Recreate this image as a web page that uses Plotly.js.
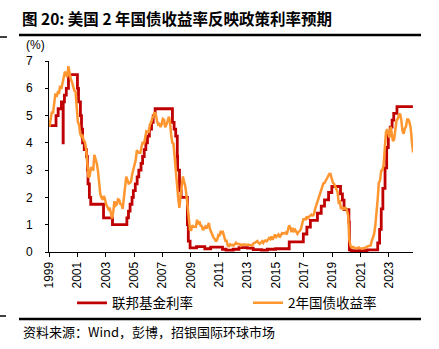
<!DOCTYPE html>
<html>
<head>
<meta charset="utf-8">
<script src="https://cdn.plot.ly/plotly-3.0.1.min.js"></script>
<style>html,body{margin:0;padding:0;background:#fff}#chart{width:439px;height:349px}</style>
</head>
<body>
<div id="chart"></div>
<script>
// ---- Data ----
// Fed funds (effective) rate, change dates and levels (%)
var fedDates = ['1999-01-01','1999-07-01','1999-08-25','1999-11-17','1999-12-31','2000-01-03','2000-02-03','2000-03-22','2000-05-17',
  '2001-01-03','2001-01-31','2001-03-21','2001-04-18','2001-05-16','2001-06-28','2001-08-22','2001-09-17','2001-10-03','2001-11-07','2001-12-12',
  '2002-11-07','2003-06-26','2004-07-01','2004-08-11','2004-09-22','2004-11-11','2004-12-15','2005-02-03','2005-03-23','2005-05-04',
  '2005-07-01','2005-08-10','2005-09-21','2005-11-02','2005-12-14','2006-02-01','2006-03-29','2006-05-11','2006-06-30',
  '2007-09-19','2007-11-01','2007-12-12','2008-01-22','2008-01-31','2008-03-19','2008-05-01','2008-10-09','2008-11-01','2008-12-17',
  '2009-06-01','2010-01-01','2010-06-01','2011-04-01','2011-07-01','2012-01-01','2012-06-01','2013-01-01','2013-06-01','2014-01-01','2014-06-01','2015-01-01',
  '2015-12-17','2016-12-15','2017-03-16','2017-06-15','2017-12-14','2018-03-22','2018-06-14','2018-09-27','2018-12-20',
  '2019-08-01','2019-09-19','2019-10-31','2020-03-04','2020-03-16','2020-05-01','2021-06-17',
  '2022-03-17','2022-05-05','2022-06-16','2022-07-28','2022-09-22','2022-11-03','2022-12-15','2023-02-02','2023-03-23','2023-05-04','2023-07-27','2024-09-10'];
var fedRate = [4.63,5.0,5.25,5.5,4.0,5.5,5.75,6.0,6.5,
  6.0,5.5,5.0,4.5,4.0,3.75,3.5,3.0,2.5,2.0,1.75,
  1.25,1.0,1.25,1.5,1.75,2.0,2.25,2.5,2.75,3.0,
  3.25,3.5,3.75,4.0,4.25,4.5,4.75,5.0,5.25,
  4.75,4.5,4.25,3.5,3.0,2.25,2.0,1.0,0.4,0.15,
  0.2,0.12,0.18,0.1,0.07,0.1,0.16,0.14,0.09,0.07,0.1,0.12,
  0.37,0.66,0.91,1.16,1.42,1.68,1.91,2.18,2.4,
  2.13,1.9,1.55,1.1,0.08,0.05,0.08,
  0.33,0.83,1.58,2.33,3.08,3.83,4.33,4.58,4.83,5.08,5.33,5.33];

// 2-year Treasury yield, monthly (%), starting Jan 1999
var ust2y_1999_2003 = [4.60,4.91,5.14,5.08,5.44,5.81,5.68,5.84,5.80,6.10,5.97,6.19,
  6.44,6.61,6.53,6.40,6.81,6.48,6.34,6.23,6.08,5.91,5.88,5.35,
  4.76,4.66,4.34,4.23,4.26,4.08,4.04,3.76,3.12,2.73,2.78,3.11,
  3.03,3.02,3.56,3.42,3.26,2.99,2.56,2.13,2.00,1.91,2.05,1.94,
  1.74,1.63,1.57,1.62,1.42,1.23,1.47,1.86,1.71,1.75,1.93,1.91];
var ust2y_2004_2008 = [1.76,1.74,1.58,2.07,2.53,2.76,2.64,2.51,2.53,2.58,2.85,3.01,
  3.22,3.38,3.73,3.65,3.64,3.64,3.87,4.04,3.95,4.27,4.42,4.40,
  4.40,4.67,4.73,4.89,4.97,5.12,5.06,4.82,4.67,4.69,4.58,4.68,
  4.88,4.85,4.57,4.67,4.77,4.96,4.82,4.31,4.01,3.97,3.34,3.12,
  2.48,1.97,1.62,2.05,2.45,2.77,2.57,2.42,2.08,1.61,1.21,0.82];
var ust2y_2009_2013 = [0.81,0.98,0.93,0.93,0.92,1.18,1.02,1.12,0.96,0.95,0.80,0.87,
  0.93,0.86,0.96,1.06,0.83,0.72,0.62,0.52,0.48,0.38,0.45,0.62,
  0.61,0.77,0.70,0.73,0.56,0.41,0.41,0.23,0.21,0.28,0.25,0.26,
  0.24,0.28,0.34,0.29,0.29,0.29,0.23,0.27,0.26,0.28,0.27,0.26,
  0.27,0.27,0.26,0.23,0.25,0.33,0.34,0.36,0.40,0.34,0.30,0.34];
var ust2y_2014_2018 = [0.39,0.33,0.40,0.42,0.39,0.45,0.51,0.47,0.57,0.45,0.53,0.64,
  0.55,0.62,0.64,0.54,0.61,0.69,0.67,0.70,0.71,0.64,0.88,0.98,
  0.90,0.73,0.88,0.77,0.82,0.73,0.67,0.74,0.77,0.84,0.98,1.20,
  1.21,1.20,1.30,1.24,1.30,1.34,1.37,1.34,1.38,1.58,1.71,1.84,
  2.03,2.18,2.28,2.38,2.51,2.53,2.61,2.64,2.77,2.86,2.86,2.68];
var ust2y_2019_2024 = [2.54,2.50,2.41,2.33,2.21,1.81,1.84,1.57,1.65,1.55,1.61,1.61,
  1.52,1.33,0.45,0.22,0.17,0.19,0.15,0.14,0.13,0.15,0.17,0.14,
  0.13,0.12,0.15,0.16,0.16,0.20,0.22,0.21,0.24,0.41,0.55,0.66,
  0.98,1.39,1.91,2.54,2.61,2.98,3.00,3.18,3.86,4.38,4.50,4.29,
  4.19,4.59,4.40,4.06,4.13,4.64,4.82,4.88,5.03,5.07,4.84,4.45,
  4.33,4.53,4.59,4.86,4.86,4.74,4.54,4.03,3.65];
var ust2y = [].concat(ust2y_1999_2003, ust2y_2004_2008, ust2y_2009_2013, ust2y_2014_2018, ust2y_2019_2024);
var startYear = 1999;
var ustDates = ust2y.map(function(v, i){
  var y = startYear + Math.floor(i/12), m = i % 12 + 1;
  return y + '-' + (m < 10 ? '0' + m : m) + '-15';
});

var xTickVals = ['1999-01-01','2001-01-01','2003-01-01','2005-01-01','2007-01-01','2009-01-01','2011-01-01','2013-01-01','2015-01-01','2017-01-01','2019-01-01','2021-01-01','2023-01-01'];
var xTickText = ['1999','2001','2003','2005','2007','2009','2011','2013','2015','2017','2019','2021','2023'];
var yTickVals = [0,1,2,3,4,5,6,7];

var nameFed = '联邦基金利率';
var nameUst = '2年国债收益率';
var titleText = '图 20: 美国 2 年国债收益率反映政策利率预期';
var sourceText = '资料来源：Wind，彭博，招银国际环球市场';

// ---- Layout helpers (pixel -> paper) ----
var L = 49, R = 413, T = 61, B = 252;
function px(x){ return (x - L) / (R - L); }
function py(y){ return (B - y) / (B - T); }

var cjk = '"Noto Sans CJK SC", "Liberation Sans", sans-serif';
var lat = '"Liberation Sans", Arial, sans-serif';

var traces = [
  {x: fedDates, y: fedRate, name: nameFed, type: 'scatter', mode: 'lines',
   line: {color: '#C00000', width: 2.8, shape: 'hv'}},
  {x: ustDates, y: ust2y, name: nameUst, type: 'scatter', mode: 'lines',
   line: {color: '#FF9630', width: 2.5}}
];

var layout = {
  width: 439, height: 349,
  margin: {l: L, r: 439 - R, t: T, b: 349 - B, pad: 0},
  paper_bgcolor: '#fff', plot_bgcolor: '#fff',
  title: {text: '<b>' + titleText + '</b>', font: {family: cjk, size: 15.5, color: '#000'},
          xref: 'container', yref: 'container', x: 22/439, xanchor: 'left', y: 1 - 20/349, yanchor: 'middle'},
  xaxis: {type: 'date', range: ['1999-01-01', '2024-09-12'], tickmode: 'array', tickvals: xTickVals, ticktext: xTickText,
          tickangle: -90, ticks: 'outside', ticklen: 4, tickcolor: '#000', tickwidth: 1,
          showline: true, linecolor: '#000', linewidth: 1, showgrid: false, zeroline: false,
          tickfont: {family: lat, size: 12, color: '#000'}},
  yaxis: {range: [0, 7], tickmode: 'array', tickvals: yTickVals, ticks: 'outside', ticklen: 3, tickcolor: '#000',
          showline: true, linecolor: '#000', linewidth: 1, showgrid: false, zeroline: false, ticklabelstandoff: 10,
          tickfont: {family: lat, size: 12, color: '#000'}},
  showlegend: true,
  legend: {orientation: 'h', x: px(72), xanchor: 'left', y: py(303), yanchor: 'middle',
           font: {family: cjk, size: 13.5, color: '#000'}, entrywidth: 131, entrywidthmode: 'pixels',
           bgcolor: 'rgba(0,0,0,0)', borderwidth: 0, traceorder: 'normal'},
  annotations: [
    {text: '(%)', xref: 'paper', yref: 'paper', x: px(24), y: py(45), xanchor: 'left', yanchor: 'middle', showarrow: false,
     font: {family: lat, size: 12, color: '#000'}},
    {text: sourceText, xref: 'paper', yref: 'paper', x: px(21), y: py(331), xanchor: 'left', yanchor: 'middle', showarrow: false,
     font: {family: cjk, size: 13, color: '#000'}}
  ],
  shapes: [
    {type: 'line', xref: 'paper', yref: 'paper', x0: px(19), x1: px(421), y0: py(35), y1: py(35), line: {color: '#000', width: 2.5}},
    {type: 'line', xref: 'paper', yref: 'paper', x0: px(0), x1: px(7), y0: py(37), y1: py(37), line: {color: '#000', width: 1.5}},
    {type: 'line', xref: 'paper', yref: 'paper', x0: px(19), x1: px(421), y0: py(319), y1: py(319), line: {color: '#000', width: 2.5}},
    {type: 'line', xref: 'paper', yref: 'paper', x0: px(0), x1: px(6), y0: py(316), y1: py(316), line: {color: '#000', width: 1.5}}
  ]
};

Plotly.newPlot('chart', traces, layout, {displayModeBar: false, staticPlot: true});
</script>
</body>
</html>
